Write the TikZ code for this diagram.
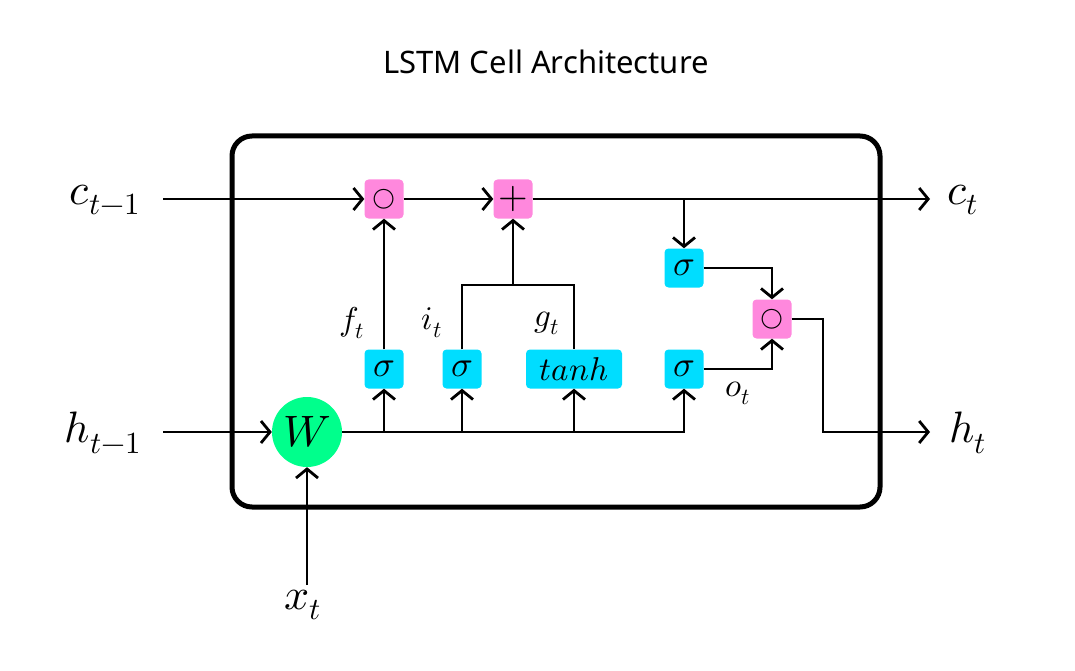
\documentclass[tikz,border=0pt]{standalone}
\usepackage{fontspec}
\usepackage{unicode-math}
\setmathfont{Latin Modern Math}
\newfontfamily\titlefont{Noto Sans}
\usetikzlibrary{arrows.meta}
\definecolor{gpink}{RGB}{255,136,221}
\definecolor{gcyan}{RGB}{0,221,255}
\definecolor{ggreen}{RGB}{0,255,140}
\begin{document}
\begin{tikzpicture}[x=1pt,y=-1pt,
  conn/.style={line width=2.8pt},
  arr/.style={conn,-{Straight Barb[length=9pt,width=22pt,line width=2.8pt]}},
  gate/.style={fill=gcyan, rounded corners=4pt, minimum width=39pt, minimum height=39pt, inner sep=0pt, font=\fontsize{36}{40}\selectfont},
  op/.style={fill=gpink, rounded corners=4pt, minimum width=39pt, minimum height=39pt, inner sep=0pt, font=\fontsize{29}{30}\selectfont},
  big/.style={font=\fontsize{44}{50}\selectfont},
  lbl/.style={font=\fontsize{33}{36}\selectfont}]
\useasboundingbox (0,0) rectangle (1075,671);
\node[font=\titlefont\fontsize{31}{34}\selectfont] (title) at (546,62) {LSTM Cell Architecture};
\node[draw, line width=5pt, rounded corners=20pt, minimum width=648pt, minimum height=371pt, inner sep=0pt] (cell) at (556,321.5) {};
\node[op] (mul1) at (384,199) {$\bigcirc$};
\node[op, font=\fontsize{38}{40}\selectfont] (add) at (513,199) {$+$};
\node[gate] (sf) at (384,369) {$\sigma$};
\node[gate] (si) at (462,369) {$\sigma$};
\node[gate, minimum width=96pt, font=\fontsize{33}{36}\selectfont] (tanh) at (574,369) {$tanh$};
\node[gate] (so) at (684,369) {$\sigma$};
\node[gate] (sc) at (684,268) {$\sigma$};
\node[op] (mul2) at (772,319) {$\bigcirc$};
\node[circle, fill=ggreen, minimum size=70pt, inner sep=0pt, big] (W) at (307,432) {$W$};
\node[big] (cprev) at (105,200) {$c_{t-1}$};
\node[big] (ct) at (963,200) {$c_t$};
\node[big] (hprev) at (103,433) {$h_{t-1}$};
\node[big] (ht) at (968,433) {$h_t$};
\node[big] (xt) at (303,605) {$x_t$};
\node[lbl] (ft) at (352,323) {$f_t$};
\node[lbl] (it) at (432,323) {$i_t$};
\node[lbl] (gt) at (547,323) {$g_t$};
\node[lbl] (ot) at (738,393) {$o_t$};
\coordinate (cin) at (163,199);
\coordinate (cout) at (930,199);
\coordinate (hin) at (163,432);
\coordinate (hout) at (930,432);
\coordinate (xin) at (307,585);
\coordinate (jl) at (462,285);
\coordinate (jr) at (574,285);
\coordinate (oc) at (823,319);
% cell state line
\draw[arr] (cin) -- (mul1);
\draw[arr] (mul1) -- (add);
\draw[arr] (add) -- (cout);
\draw[arr] (sc.north |- add.east) -- (sc.north);
% inputs
\draw[arr] (hin) -- (W);
\draw[arr] (xin) -- (W);
% main bus
\draw[arr] (W.east) -- (so.south |- W.east) -- (so.south);
\draw[arr] (sf.south |- W.east) -- (sf.south);
\draw[arr] (si.south |- W.east) -- (si.south);
\draw[arr] (tanh.south |- W.east) -- (tanh.south);
% gates upward
\draw[arr] (sf) -- (mul1);
\draw[conn] (si.north) -- (jl) -- (jr) -- (tanh.north);
\draw[arr] (add.south |- jl) -- (add.south);
% output gate
\draw[arr] (sc.east) -| (mul2.north);
\draw[arr] (so.east) -| (mul2.south);
\draw[arr] (mul2.east) -- (oc) |- (hout);
\end{tikzpicture}
\end{document}
